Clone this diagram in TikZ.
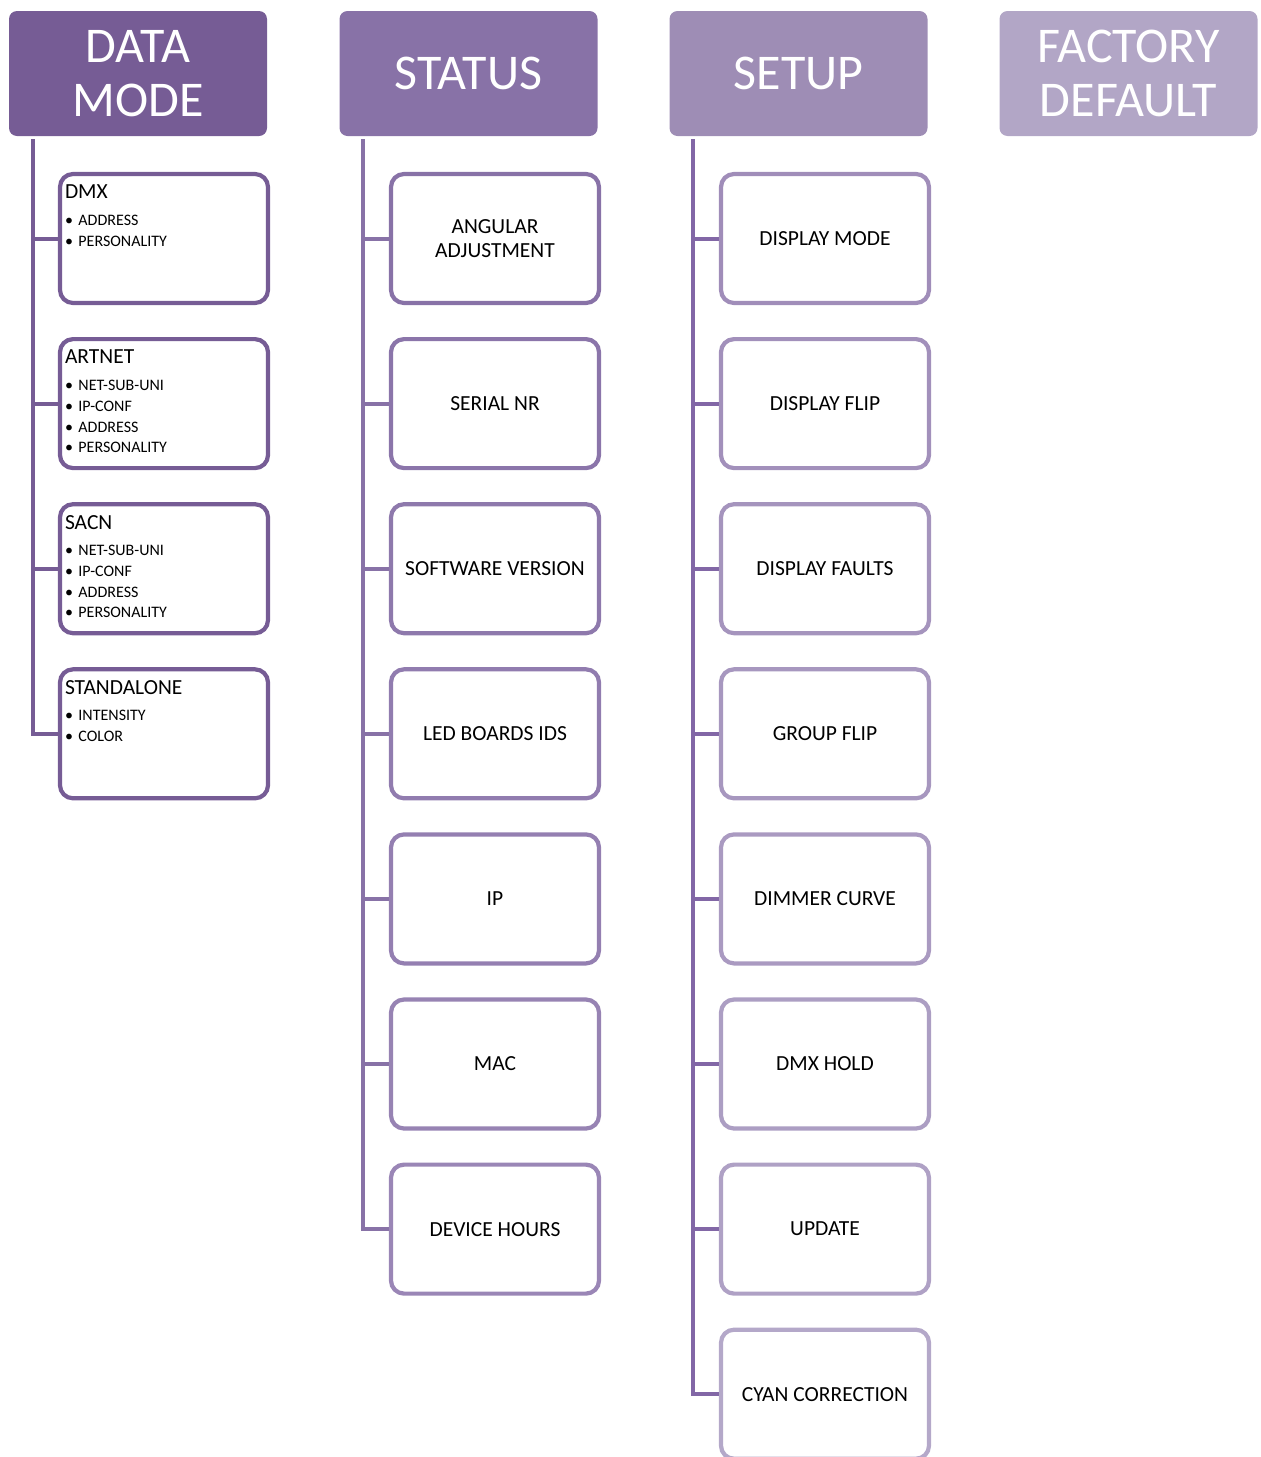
\documentclass[tikz,border=0pt]{standalone}
\usepackage{fontspec}
\setmainfont{Carlito}
\usepackage{xcolor}
\usetikzlibrary{positioning}

\definecolor{dmPurple}{HTML}{765C95}
\definecolor{stPurple}{HTML}{8872A7}
\definecolor{stLight}{HTML}{9A86B6}
\definecolor{suPurple}{HTML}{9E8DB5}
\definecolor{suTop}{HTML}{A08DB9}
\definecolor{suLight}{HTML}{B4A8C9}
\definecolor{suTrunk}{HTML}{8267A6}
\definecolor{fdPurple}{HTML}{B2A6C6}

\newcommand{\modelist}[2]{%
  \begin{minipage}[c][121pt][t]{198pt}\raggedright
    \vspace*{7pt}#1\par\vspace{6pt}%
    {\fontsize{16}{20.7}\selectfont #2\par}%
  \end{minipage}}
\newcommand{\bul}[1]{\textbullet\hspace{5.5pt}#1\par}

\tikzset{
  head/.style={rounded corners=8pt, minimum width=258pt, minimum height=125pt,
    inner sep=0pt, outer sep=0pt, text=white, align=center,
    font=\fontsize{50}{54}\selectfont},
  item/.style={draw=#1, line width=4.2pt, rounded corners=13pt, fill=white,
    minimum width=208pt, minimum height=129pt, inner sep=0pt, outer sep=0pt,
    align=center, font=\fontsize{21.5}{23.5}\selectfont},
  modeitem/.style={item=dmPurple, inner xsep=5pt, inner ysep=4pt},
  branch/.style={line width=4pt, shorten >=2pt},
}

\begin{document}
\begin{tikzpicture}[x=1pt, y=-1pt]
  \useasboundingbox (0,0) rectangle (1261,1457);

  % headers
  \node[head, fill=dmPurple] (dm) at (138,73.5) {DATA\\MODE};
  \node[head, fill=stPurple] (st) at (468.5,73.5) {STATUS};
  \node[head, fill=suPurple] (su) at (798.5,73.5) {SETUP};
  \node[head, fill=fdPurple] (fd) at (1128.5,73.5) {FACTORY\\DEFAULT};

  % data mode
  \node[modeitem] (dmx) at (164,238.5) {\modelist{DMX}{\bul{ADDRESS}\bul{PERSONALITY}}};
  \node[modeitem, below=36.1pt of dmx] (artnet) {\modelist{ARTNET}{\bul{NET-SUB-UNI}\bul{IP-CONF}\bul{ADDRESS}\bul{PERSONALITY}}};
  \node[modeitem, below=36.1pt of artnet] (sacn) {\modelist{SACN}{\bul{NET-SUB-UNI}\bul{IP-CONF}\bul{ADDRESS}\bul{PERSONALITY}}};
  \node[modeitem, below=36.1pt of sacn] (stand) {\modelist{STANDALONE}{\bul{INTENSITY}\bul{COLOR}}};

  % status
  \node[item=stPurple] (angular) at (495,238.5) {ANGULAR\\ADJUSTMENT};
  \node[item=stPurple!83!stLight, below=36.1pt of angular] (serial) {SERIAL NR};
  \node[item=stPurple!67!stLight, below=36.1pt of serial] (software) {SOFTWARE VERSION};
  \node[item=stPurple!50!stLight, below=36.1pt of software] (ledids) {LED BOARDS IDS};
  \node[item=stPurple!33!stLight, below=36.1pt of ledids] (ip) {IP};
  \node[item=stPurple!17!stLight, below=36.1pt of ip] (mac) {MAC};
  \node[item=stLight, below=36.1pt of mac] (hours) {DEVICE HOURS};

  % setup
  \node[item=suTop] (dispmode) at (825,238.5) {DISPLAY MODE};
  \node[item=suTop!88!suLight, below=36.1pt of dispmode] (dispflip) {DISPLAY FLIP};
  \node[item=suTop!75!suLight, below=36.1pt of dispflip] (dispfault) {DISPLAY FAULTS};
  \node[item=suTop!63!suLight, below=36.1pt of dispfault] (grpflip) {GROUP FLIP};
  \node[item=suTop!50!suLight, below=36.1pt of grpflip] (dimmer) {DIMMER CURVE};
  \node[item=suTop!38!suLight, below=36.1pt of dimmer] (dmxhold) {DMX HOLD};
  \node[item=suTop!25!suLight, below=36.1pt of dmxhold] (update) {UPDATE};
  \node[item=suLight, below=36.1pt of update] (cyan) {CYAN CORRECTION};

  % trunks
  \coordinate (dmT) at (33,139);
  \coordinate (stT) at (363,139);
  \coordinate (suT) at (693,139);
  \draw[branch, dmPurple] (dmT) |- (stand.west);
  \foreach \n in {dmx,artnet,sacn}
    \draw[branch, dmPurple] (dmT |- \n.west) -- (\n.west);
  \draw[branch, stPurple] (stT) |- (hours.west);
  \foreach \n in {angular,serial,software,ledids,ip,mac}
    \draw[branch, stPurple] (stT |- \n.west) -- (\n.west);
  \draw[branch, suTrunk] (suT) |- (cyan.west);
  \foreach \n in {dispmode,dispflip,dispfault,grpflip,dimmer,dmxhold,update}
    \draw[branch, suTrunk] (suT |- \n.west) -- (\n.west);
\end{tikzpicture}
\end{document}
